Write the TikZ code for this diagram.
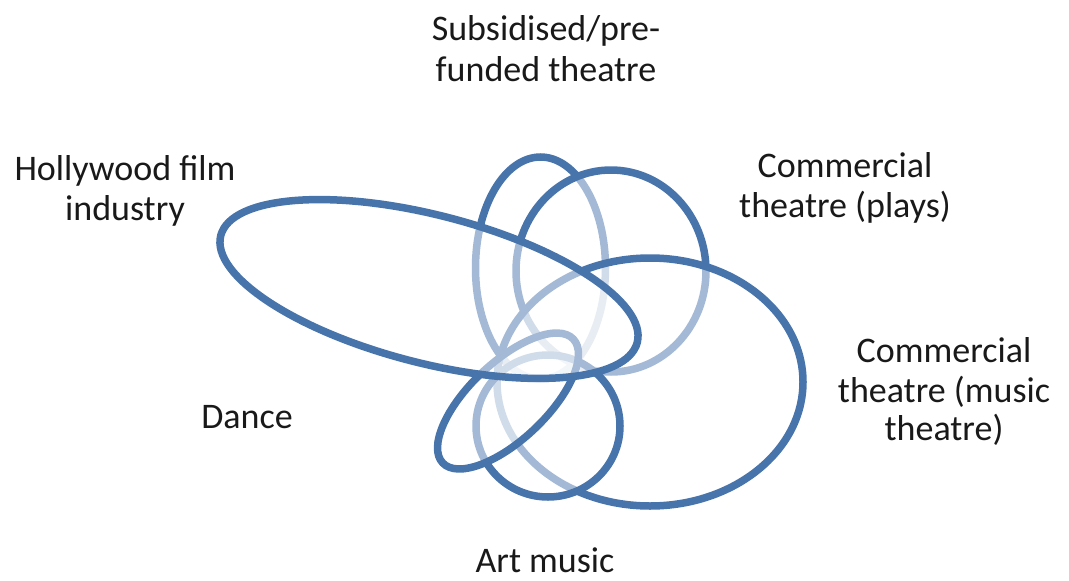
\documentclass[tikz,border=0pt]{standalone}
\usepackage{fontspec}
\setmainfont{Carlito}
\definecolor{ringblue}{RGB}{72,116,172}
\tikzset{
  ring/.style={line width=7.5pt, draw=ringblue, fill=white, fill opacity=0.5, draw opacity=1},
  lbl/.style={anchor=base, inner sep=0pt, font=\fontsize{36}{40}\selectfont, text=black!90}
}
\begin{document}
\begin{tikzpicture}[x=1pt, y=-1pt]
\useasboundingbox (0,0) rectangle (1069,581);
% bottom to top
\filldraw[ring] (540.5,268) ellipse [x radius=65, y radius=111];
\filldraw[ring] (611,271) ellipse [x radius=95, y radius=101];
\filldraw[ring] (650,382) ellipse [x radius=153, y radius=124];
\filldraw[ring] (548,426) ellipse [x radius=72, y radius=71];
\filldraw[ring, rotate around={43.5:(508,401)}] (508,401) ellipse [x radius=90, y radius=38.5];
\filldraw[ring, rotate around={-14.4:(429,289)}] (429,289) ellipse [x radius=215, y radius=74];
% labels
\node[lbl] (sub1) at (546,40) {Subsidised/pre-};
\node[lbl] (sub2) at (546,81) {funded theatre};
\node[lbl] (hol1) at (125,180) {Hollywood film};
\node[lbl] (hol2) at (125,220) {industry};
\node[lbl] (pla1) at (845,177) {Commercial};
\node[lbl] (pla2) at (845,217) {theatre (plays)};
\node[lbl] (mus1) at (944,362) {Commercial};
\node[lbl] (mus2) at (944,402) {theatre (music};
\node[lbl] (mus3) at (944,440) {theatre)};
\node[lbl] (dan) at (247,428) {Dance};
\node[lbl] (art) at (545,572) {Art music};
\end{tikzpicture}
\end{document}
